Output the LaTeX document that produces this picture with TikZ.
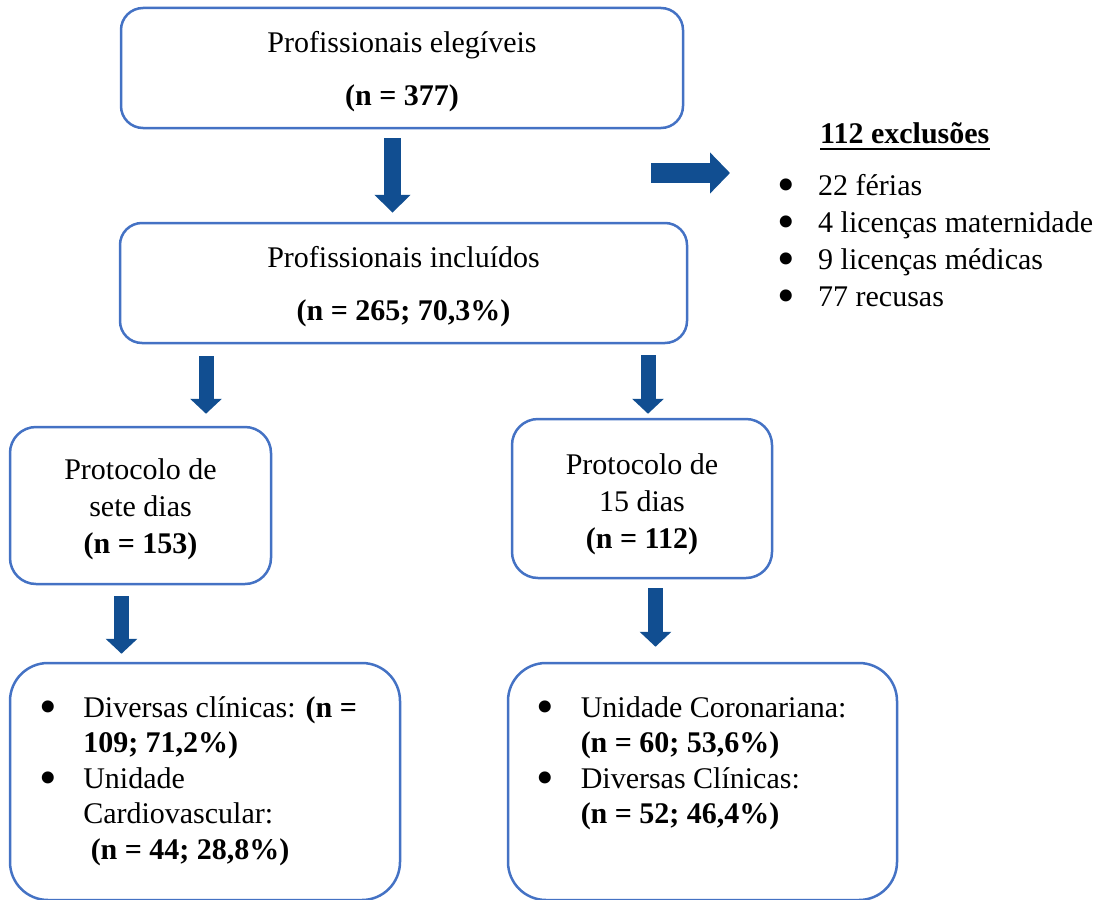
\documentclass[tikz,border=0pt]{standalone}
\usepackage{fontspec}
\setmainfont{LiberationSerif}[Extension=.ttf, UprightFont=*-Regular, BoldFont=*-Bold, ItalicFont=*-Italic, BoldItalicFont=*-BoldItalic]
\usepackage{graphicx}
\usepackage{tikz}
\usetikzlibrary{arrows.meta}
\usetikzlibrary{calc}
\definecolor{boxblue}{RGB}{68,114,196}
\definecolor{arrowblue}{RGB}{17,78,145}
\newcommand{\bul}{\smash{\raisebox{-6pt}{\scalebox{1.67}{\textbullet}}}}

\begin{document}
\begin{tikzpicture}[x=1pt,y=-1pt]
	\def\listw{324pt}
	\tikzstyle{box} = [rectangle, draw=boxblue, line width=2.5pt, align=center, text centered, font=\fontsize{30}{37}\selectfont]
	\tikzstyle{small} = [box, minimum width=261pt, minimum height=157pt, rounded corners=26pt]
	\tikzstyle{big} = [box, minimum width=390pt, minimum height=237pt, rounded corners=38pt, font=\fontsize{30}{35.5}\selectfont]
	\tikzstyle{bigarrow} = [draw=arrowblue, line width=15pt, -{Triangle[width=31pt,length=15pt]}]
	\useasboundingbox (0,0) rectangle (1102,899);
	\node (elig)[box, minimum width=562pt, minimum height=120pt, rounded corners=22pt] at (402,68) {\rule{0pt}{29pt}Profissionais elegíveis\\[16pt]\textbf{(n = 377)}};
	\node (incl)[box, minimum width=567pt, minimum height=120pt, rounded corners=22pt] at (403.5,283) {\rule{0pt}{29pt}Profissionais incluídos\\[16pt]\textbf{(n = 265; 70,3\%)}};
	\node (sete)[small] at (140.5,505.5) {\rule{0pt}{29pt}Protocolo de\\sete dias\\\textbf{(n = 153)}};
	\node (quinze)[small, minimum width=260pt, minimum height=159pt] at (642,498.5) {\rule{0pt}{33pt}Protocolo de\\15 dias\\\textbf{(n = 112)}};
	\node (divl)[big] at (205,781.5) {
		\begin{minipage}[c][178pt][t]{\listw}
			\begin{tabular}{@{}p{44pt}@{}l@{}}
				\bul & Diversas clínicas: \textbf{(n =}\\
				& \textbf{109; 71,2\%)}\\
				\bul & Unidade\\
				& Cardiovascular:\\
				& \ \textbf{(n = 44; 28,8\%)}
			\end{tabular}
		\end{minipage}
	};
	\node (divr)[big, minimum width=389pt] at (702.5,781.5) {
		\begin{minipage}[c][178pt][t]{\listw}
			\begin{tabular}{@{}p{44pt}@{}l@{}}
				\bul & Unidade Coronariana:\\
				& \textbf{(n = 60; 53,6\%)}\\
				\bul & Diversas Clínicas:\\
				& \textbf{(n = 52; 46,4\%)}
			\end{tabular}
		\end{minipage}
	};
	% exclusions
	\node (exhead)[anchor=base west, inner sep=0pt, font=\fontsize{30}{37}\selectfont] at (820,143) {\textbf{112 exclusões}};
	\draw[line width=2.5pt] ([yshift=-6pt]exhead.base west) -- ([yshift=-6pt]exhead.base east);
	\node (exlist)[anchor=north west, inner sep=0pt, align=left, font=\fontsize{30}{37}\selectfont] at (777,169) {
		\begin{tabular}{@{}p{41pt}@{}l@{}}
			\bul & 22 férias\\
			\bul & 4 licenças maternidade\\
			\bul & 9 licenças médicas\\
			\bul & 77 recusas
		\end{tabular}
	};
	\coordinate (exstart) at (651,173);
	\draw[bigarrow, line width=17pt, -{Triangle[width=35pt,length=18pt]}] ([xshift=-9.5pt,yshift=-9pt]elig.south) -- ([xshift=-11pt,yshift=9pt]incl.north);
	\draw[bigarrow, line width=20pt, -{Triangle[width=40pt,length=20pt]}] (exstart) -- ($(exstart -| exlist.west)+(-47,0)$);
	\draw[bigarrow] ([xshift=-197.5pt,yshift=-12pt]incl.south) -- ([xshift=65.5pt,yshift=12pt]sete.north);
	\draw[bigarrow] ([xshift=244.5pt,yshift=-11pt]incl.south) -- ([xshift=6pt,yshift=4pt]quinze.north);
	\draw[bigarrow] ([xshift=-19pt,yshift=-11pt]sete.south) -- ([xshift=-83.5pt,yshift=8pt]divl.north);
	\draw[bigarrow] ([xshift=13.5pt,yshift=-9pt]quinze.south) -- ([xshift=-47pt,yshift=15pt]divr.north);
\end{tikzpicture}
\end{document}
